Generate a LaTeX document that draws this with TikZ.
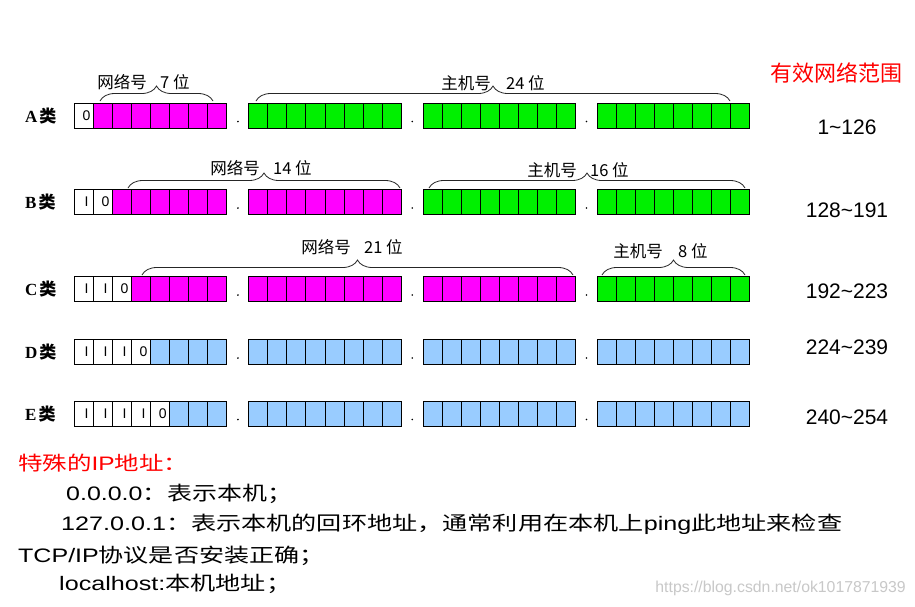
\documentclass[tikz,border=0pt]{standalone}
\usepackage{fontspec}
\usepackage{graphicx}
\setmainfont{Liberation Sans}
\newfontfamily\cjk{Noto Sans CJK SC}
\newfontfamily\serifrm{Liberation Serif}
\usetikzlibrary{decorations.pathreplacing}
\definecolor{mag}{RGB}{255,0,255}
\definecolor{grn}{RGB}{0,240,0}
\definecolor{blu}{RGB}{153,204,255}
\definecolor{redtxt}{RGB}{255,0,0}
\definecolor{wm}{RGB}{200,200,200}
\newcommand\fs[1]{\fontsize{#1}{#1}\selectfont}
\begin{document}
\begin{tikzpicture}[x=1pt,y=-1pt,
  cell/.style={draw=black,line width=0.9pt,anchor=north west,minimum width=19.05pt,minimum height=25pt,inner sep=0pt,text height=10pt,text depth=0pt,font=\fs{14}},
  brc/.style={draw=black!85,line width=0.8pt,decorate,decoration={brace,amplitude=15pt}},
  blab/.style={font=\cjk\fs{16.5},inner sep=0pt},
  rowlab/.style={inner sep=0pt,anchor=base west},
  rng/.style={font=\fs{21},anchor=base,inner sep=0pt},
  txtline/.style={anchor=base west,inner sep=0pt,font=\fs{19.5}}]

\fill[white] (0,0) rectangle (915,606);
\useasboundingbox (0,0) rectangle (915,606);

% address cells
\foreach \rw/\tyy/\nw/\nb/\nc/\hc in {A/102.5/1/1/mag/grn, B/189/2/2/mag/grn, C/276/3/3/mag/grn, D/339/4/4/blu/blu, E/400.5/5/4/blu/blu}{
  \foreach \bb in {0,1,2,3}{
    \foreach \cc in {0,...,7}{
      \pgfmathsetmacro\xx{74+\bb*174.33+\cc*19.05}
      \ifnum\bb<\nb\relax \def\fc{\nc}\else\def\fc{\hc}\fi
      \def\txt{}
      \ifnum\bb=0\relax
        \ifnum\cc<\nw\relax
          \def\fc{white}
          \ifnum\cc=\numexpr\nw-1\relax \def\txt{\hspace{5pt}0}\else\def\txt{\hspace{5pt}I}\fi
        \fi
      \fi
      \node[cell,fill=\fc] (c\rw-\bb-\cc) at (\xx,\tyy) {\txt};
    }
    \ifnum\bb<3\relax
      \pgfmathsetmacro\dx{74+\bb*174.33+152.4+11.5}
      \fill (\dx,\tyy+19) circle (0.9pt);
    \fi
  }
}

% row labels
\foreach \rw/\cy in {A/116, B/202.5, C/289.5, D/352, E/414}{
  \node[rowlab] (lab\rw) at (25,\cy+6.3) {{\serifrm\bfseries\fs{17}\rw}\hspace{2pt}{\cjk\bfseries\fs{17}类}};
}

% braces
\coordinate (An1) at (100,101);  \coordinate (An2) at (213,101);
\coordinate (Ah1) at (256,101);  \coordinate (Ah2) at (730,101);
\coordinate (Bn1) at (128,188);  \coordinate (Bn2) at (400,188);
\coordinate (Bh1) at (429,188);  \coordinate (Bh2) at (745,188);
\coordinate (Cn1) at (142,275);  \coordinate (Cn2) at (573,275);
\coordinate (Ch1) at (602,275);  \coordinate (Ch2) at (745,275);
\draw[brc] (An1) -- (An2);
\draw[brc] (Ah1) -- (Ah2);
\draw[brc] (Bn1) -- (Bn2);
\draw[brc] (Bh1) -- (Bh2);
\draw[brc] (Cn1) -- (Cn2);
\draw[brc] (Ch1) -- (Ch2);

% brace labels
\node[blab,anchor=base east] (tAn1) at (147,88.3) {网络号};
\node[blab,anchor=base west] (tAn2) at (160,88.3) {7 位};
\node[blab,anchor=base east] (tAh1) at (491,89.3) {主机号};
\node[blab,anchor=base west] (tAh2) at (506,89.3) {24 位};
\node[blab,anchor=base east] (tBn1) at (260,174.8) {网络号};
\node[blab,anchor=base west] (tBn2) at (273,174.8) {14 位};
\node[blab,anchor=base east] (tBh1) at (577,176.3) {主机号};
\node[blab,anchor=base west] (tBh2) at (590,176.3) {16 位};
\node[blab,anchor=base east] (tCn1) at (351,253.3) {网络号};
\node[blab,anchor=base west] (tCn2) at (364,253.3) {21 位};
\node[blab,anchor=base east] (tCh1) at (663,257.3) {主机号};
\node[blab,anchor=base west] (tCh2) at (678,257.3) {8 位};

% range column
\node[anchor=base,inner sep=0pt,text=redtxt,font=\cjk\fs{22}] (title) at (836.5,81.7) {有效网络范围};
\node[rng] (rA) at (847,134.7) {1\char`~126};
\node[rng] (rB) at (847,217) {128\char`~191};
\node[rng] (rC) at (847,298) {192\char`~223};
\node[rng] (rD) at (847,354.2) {224\char`~239};
\node[rng] (rE) at (847,424.2) {240\char`~254};

% special addresses
\node[txtline,text=redtxt] (s0) at (18,470) {\resizebox{170pt}{\height}{{\cjk 特殊的}IP{\cjk 地址：}}};
\node[txtline] (s1) at (66,500.5) {\resizebox{226pt}{\height}{0.0.0.0{\cjk ：表示本机；}}};
\node[txtline] (s2) at (61,530.5) {\resizebox{781pt}{\height}{127.0.0.1{\cjk ：表示本机的回环地址，通常利用在本机上}ping{\cjk 此地址来检查}}};
\node[txtline] (s3) at (18,562) {\resizebox{306pt}{\height}{TCP/IP{\cjk 协议是否安装正确；}}};
\node[txtline] (s4) at (59,590.5) {\resizebox{232pt}{\height}{localhost:{\cjk 本机地址；}}};

% watermark
\node[anchor=base east,inner sep=0pt,text=wm,font=\fs{15.8}] (wmk) at (906,592.4) {https://blog.csdn.net/ok1017871939};
\end{tikzpicture}
\end{document}
